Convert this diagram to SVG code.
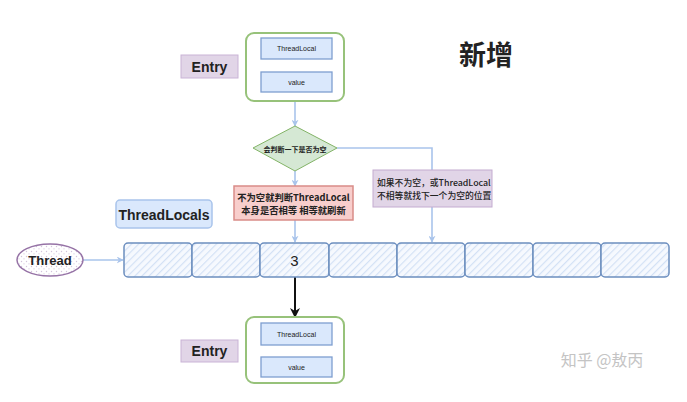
<svg xmlns="http://www.w3.org/2000/svg" width="687" height="402" viewBox="0 0 687 402">
<style>
  .t{font-family:"Liberation Sans","Noto Sans CJK SC",sans-serif;text-anchor:middle;dominant-baseline:central;fill:#222}
  .cn{font-family:"Noto Sans CJK SC","Liberation Sans",sans-serif;fill:#222}
  .container{fill:#fff;stroke:#97c27a;stroke-width:2}
  .field{fill:#dae8fc;stroke:#7e9ed0;stroke-width:1.3}
  .label{fill:#e1d5e7;stroke:#c9b3d6;stroke-width:1}
  .cell{fill:url(#hatch);stroke:#6c8ebf;stroke-width:1.5}
  .conn{fill:none;stroke:#a9c4eb;stroke-width:1.6}
</style>
<defs>
  <pattern id="hatch" patternUnits="userSpaceOnUse" width="5" height="5" patternTransform="rotate(45)">
    <rect width="5" height="5" fill="#f6f9fe"/>
    <line x1="0" y1="0" x2="0" y2="5" stroke="#d3e1f5" stroke-width="2.4"/>
  </pattern>
  <pattern id="dots" patternUnits="userSpaceOnUse" width="5" height="5">
    <rect width="5" height="5" fill="#fff"/>
    <circle cx="1.5" cy="1.5" r="0.7" fill="#d3c3dc"/>
    <circle cx="4" cy="3.8" r="0.6" fill="#d3c3dc"/>
  </pattern>
  <marker id="ab" viewBox="0 0 10 10" refX="9" refY="5" markerWidth="7" markerHeight="7" orient="auto" markerUnits="userSpaceOnUse">
    <path d="M0,0 L10,5 L0,10 L3,5 Z" fill="#a9c4eb"/>
  </marker>
  <marker id="ak" viewBox="0 0 10 10" refX="9" refY="5" markerWidth="10" markerHeight="10" orient="auto" markerUnits="userSpaceOnUse">
    <path d="M0,0 L10,5 L0,10 L3,5 Z" fill="#111"/>
  </marker>
</defs>
<rect width="687" height="402" fill="#fff"/>

<g id="connectors">
  <path class="conn" d="M295,101 L295,126" marker-end="url(#ab)"/>
  <path class="conn" d="M295,171 L295,186" marker-end="url(#ab)"/>
  <path class="conn" d="M295,220 L295,242" marker-end="url(#ab)"/>
  <path class="conn" d="M337,148 L432,148 L432,170"/>
  <path class="conn" d="M432,207 L432,242" marker-end="url(#ab)"/>
  <path class="conn" d="M83,260 L123,260" marker-end="url(#ab)"/>
  <path d="M295,277 L295,317" fill="none" stroke="#111" stroke-width="2" marker-end="url(#ak)"/>
</g>

<g id="entry-top">
  <rect class="container" x="246" y="33" width="98" height="68" rx="8"/>
  <rect class="field" x="261" y="38" width="71" height="21"/>
  <text class="t" x="296.5" y="48.5" font-size="7">ThreadLocal</text>
  <rect class="field" x="261" y="72" width="71" height="20"/>
  <text class="t" x="296.5" y="82" font-size="7">value</text>
</g>
<g id="entry-top-label">
  <rect class="label" x="181" y="55" width="57" height="23"/>
  <text class="t" x="209.5" y="66.5" font-size="14" font-weight="bold">Entry</text>
</g>

<g id="title">
  <text class="cn" x="486" y="53" font-size="27" font-weight="bold" text-anchor="middle" dominant-baseline="central" fill="#111">新增</text>
</g>

<g id="decision">
  <polygon points="295,126 337,148 295,171 253,148" fill="#d5e8d4" stroke="#82b366" stroke-width="1"/>
  <text class="cn" x="295" y="148.5" font-size="7" font-weight="bold" text-anchor="middle" dominant-baseline="central">会判断一下是否为空</text>
</g>

<g id="note-equal">
  <rect x="234" y="186" width="119" height="34" fill="#f8cecc" stroke="#d98c88" stroke-width="1.5"/>
  <text class="cn" x="293.5" y="196.5" font-size="9.3" font-weight="bold" text-anchor="middle" dominant-baseline="central">不为空就判断ThreadLocal</text>
  <text class="cn" x="293.5" y="210" font-size="9.3" font-weight="bold" text-anchor="middle" dominant-baseline="central">本身是否相等 相等就刷新</text>
</g>

<g id="note-next">
  <rect x="373" y="170" width="119" height="37" fill="#e1d5e7" stroke="#c3abd0" stroke-width="1"/>
  <text class="cn" x="377" y="182.5" font-size="8.8" font-weight="500" dominant-baseline="central">如果不为空，或ThreadLocal</text>
  <text class="cn" x="377" y="195.5" font-size="8.8" font-weight="500" dominant-baseline="central">不相等就找下一个为空的位置</text>
</g>

<g id="threadlocals-label">
  <rect x="116" y="200" width="96" height="28" rx="4" fill="#dae8fc" stroke="#a9c4eb" stroke-width="1.5"/>
  <text class="t" x="164" y="214.5" font-size="14" font-weight="bold">ThreadLocals</text>
</g>

<g id="thread">
  <ellipse cx="50" cy="260" rx="33" ry="16" fill="url(#dots)" stroke="#9673a6" stroke-width="1.5"/>
  <text class="t" x="50" y="260" font-size="13" font-weight="bold">Thread</text>
</g>

<g id="array">
  <rect class="cell" x="124" y="243" width="68" height="34" rx="4"/>
  <rect class="cell" x="192" y="243" width="68" height="34" rx="4"/>
  <rect class="cell" x="260" y="243" width="69" height="34" rx="4"/>
  <rect class="cell" x="329" y="243" width="68" height="34" rx="4"/>
  <rect class="cell" x="397" y="243" width="68" height="34" rx="4"/>
  <rect class="cell" x="465" y="243" width="68" height="34" rx="4"/>
  <rect class="cell" x="533" y="243" width="68" height="34" rx="4"/>
  <rect class="cell" x="601" y="243" width="68" height="34" rx="4"/>
  <text class="t" x="294.5" y="260" font-size="15">3</text>
</g>

<g id="entry-bottom">
  <rect class="container" x="246" y="317" width="98" height="66" rx="8"/>
  <rect class="field" x="261" y="323" width="71" height="22"/>
  <text class="t" x="296.5" y="334" font-size="7">ThreadLocal</text>
  <rect class="field" x="261" y="357" width="71" height="20"/>
  <text class="t" x="296.5" y="367" font-size="7">value</text>
</g>
<g id="entry-bottom-label">
  <rect class="label" x="181" y="340" width="57" height="22"/>
  <text class="t" x="209.5" y="351" font-size="14" font-weight="bold">Entry</text>
</g>

<g id="watermark">
  <text x="602" y="359" font-family="Noto Sans CJK SC,sans-serif" font-size="16" fill="#c4c4c4" text-anchor="middle" dominant-baseline="central">知乎 @敖丙</text>
</g>
</svg>
